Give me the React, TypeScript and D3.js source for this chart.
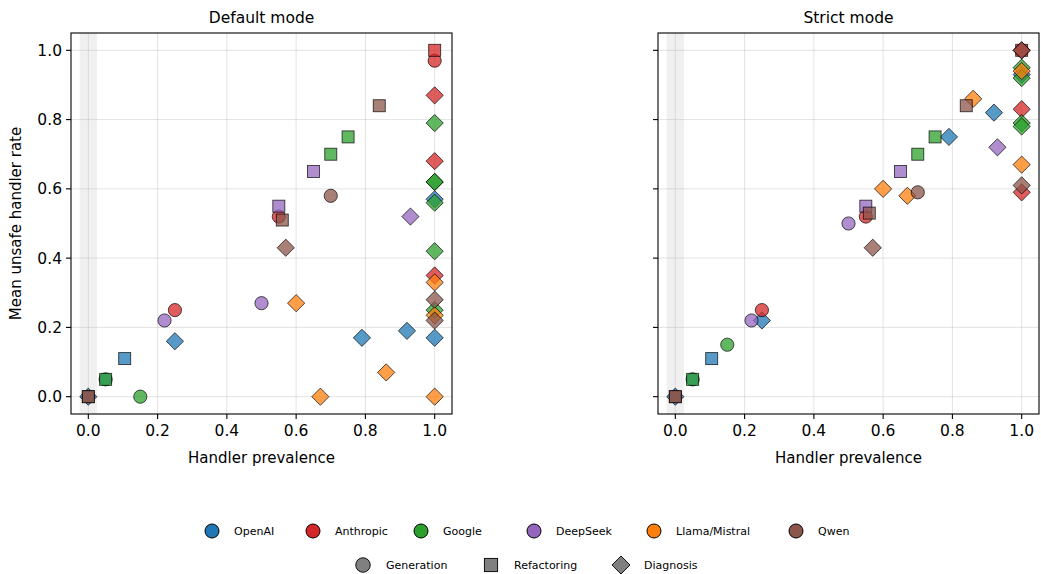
import React from 'react';
import * as d3 from 'd3';

const providers = ['OpenAI', 'Anthropic', 'Google', 'DeepSeek', 'Llama/Mistral', 'Qwen'];
const providerColors = ['#1f77b4', '#d62728', '#2ca02c', '#9467bd', '#ff7f0e', '#8c564b'];
const tasks = ['Generation', 'Refactoring', 'Diagnosis'];
const ticks = [0, 0.2, 0.4, 0.6, 0.8, 1.0];

// [provider, task, handler prevalence, mean unsafe handler rate]
type Pt = [string, string, number, number];

const defaultPoints: Pt[] = [
  ['OpenAI', 'Generation', 0.05, 0.05],
  ['OpenAI', 'Refactoring', 0.105, 0.11],
  ['OpenAI', 'Diagnosis', 0, 0],
  ['OpenAI', 'Diagnosis', 0.25, 0.16],
  ['OpenAI', 'Diagnosis', 0.79, 0.17],
  ['OpenAI', 'Diagnosis', 0.92, 0.19],
  ['OpenAI', 'Diagnosis', 1.0, 0.17],
  ['OpenAI', 'Diagnosis', 1.0, 0.57],
  ['Anthropic', 'Generation', 0.25, 0.25],
  ['Anthropic', 'Generation', 0.55, 0.52],
  ['Anthropic', 'Generation', 1.0, 0.97],
  ['Anthropic', 'Refactoring', 1.0, 1.0],
  ['Anthropic', 'Diagnosis', 1.0, 0.87],
  ['Anthropic', 'Diagnosis', 1.0, 0.68],
  ['Anthropic', 'Diagnosis', 1.0, 0.35],
  ['Google', 'Generation', 0.15, 0],
  ['Google', 'Refactoring', 0.05, 0.05],
  ['Google', 'Refactoring', 0.70, 0.70],
  ['Google', 'Refactoring', 0.75, 0.75],
  ['Google', 'Diagnosis', 1.0, 0.79],
  ['Google', 'Diagnosis', 1.0, 0.62],
  ['Google', 'Diagnosis', 1.0, 0.62],
  ['Google', 'Diagnosis', 1.0, 0.56],
  ['Google', 'Diagnosis', 1.0, 0.42],
  ['Google', 'Diagnosis', 1.0, 0.25],
  ['DeepSeek', 'Generation', 0.22, 0.22],
  ['DeepSeek', 'Generation', 0.50, 0.27],
  ['DeepSeek', 'Refactoring', 0.55, 0.55],
  ['DeepSeek', 'Refactoring', 0.65, 0.65],
  ['DeepSeek', 'Diagnosis', 0.93, 0.52],
  ['Llama/Mistral', 'Diagnosis', 0.60, 0.27],
  ['Llama/Mistral', 'Diagnosis', 0.67, 0],
  ['Llama/Mistral', 'Diagnosis', 0.86, 0.07],
  ['Llama/Mistral', 'Diagnosis', 1.0, 0.33],
  ['Llama/Mistral', 'Diagnosis', 1.0, 0.235],
  ['Llama/Mistral', 'Diagnosis', 1.0, 0],
  ['Qwen', 'Generation', 0.70, 0.58],
  ['Qwen', 'Refactoring', 0, 0],
  ['Qwen', 'Refactoring', 0, 0],
  ['Qwen', 'Refactoring', 0.56, 0.51],
  ['Qwen', 'Refactoring', 0.84, 0.84],
  ['Qwen', 'Diagnosis', 0.57, 0.43],
  ['Qwen', 'Diagnosis', 1.0, 0.28],
  ['Qwen', 'Diagnosis', 1.0, 0.22],
];

const strictPoints: Pt[] = [
  ['OpenAI', 'Generation', 0.05, 0.05],
  ['OpenAI', 'Refactoring', 0.105, 0.11],
  ['OpenAI', 'Diagnosis', 0, 0],
  ['OpenAI', 'Diagnosis', 0.25, 0.22],
  ['OpenAI', 'Diagnosis', 0.79, 0.75],
  ['OpenAI', 'Diagnosis', 0.92, 0.82],
  ['OpenAI', 'Diagnosis', 1.0, 0.93],
  ['Anthropic', 'Generation', 0.25, 0.25],
  ['Anthropic', 'Generation', 0.55, 0.52],
  ['Anthropic', 'Generation', 1.0, 1.0],
  ['Anthropic', 'Refactoring', 1.0, 1.0],
  ['Anthropic', 'Diagnosis', 1.0, 1.0],
  ['Anthropic', 'Diagnosis', 1.0, 0.83],
  ['Anthropic', 'Diagnosis', 1.0, 0.59],
  ['Google', 'Generation', 0.15, 0.15],
  ['Google', 'Refactoring', 0.05, 0.05],
  ['Google', 'Refactoring', 0.70, 0.70],
  ['Google', 'Refactoring', 0.75, 0.75],
  ['Google', 'Diagnosis', 1.0, 0.95],
  ['Google', 'Diagnosis', 1.0, 0.92],
  ['Google', 'Diagnosis', 1.0, 0.79],
  ['Google', 'Diagnosis', 1.0, 0.78],
  ['DeepSeek', 'Generation', 0.22, 0.22],
  ['DeepSeek', 'Generation', 0.50, 0.50],
  ['DeepSeek', 'Refactoring', 0.55, 0.55],
  ['DeepSeek', 'Refactoring', 0.65, 0.65],
  ['DeepSeek', 'Diagnosis', 0.93, 0.72],
  ['Llama/Mistral', 'Diagnosis', 0.60, 0.60],
  ['Llama/Mistral', 'Diagnosis', 0.67, 0.58],
  ['Llama/Mistral', 'Diagnosis', 0.86, 0.86],
  ['Llama/Mistral', 'Diagnosis', 1.0, 0.94],
  ['Llama/Mistral', 'Diagnosis', 1.0, 0.67],
  ['Qwen', 'Generation', 0.70, 0.59],
  ['Qwen', 'Refactoring', 0, 0],
  ['Qwen', 'Refactoring', 0, 0],
  ['Qwen', 'Refactoring', 0.56, 0.53],
  ['Qwen', 'Refactoring', 0.84, 0.84],
  ['Qwen', 'Diagnosis', 0.57, 0.43],
  ['Qwen', 'Diagnosis', 1.0, 1.0],
  ['Qwen', 'Diagnosis', 1.0, 0.61],
];

const color = d3.scaleOrdinal<string, string>().domain(providers).range(providerColors);
const FONT = '"DejaVu Sans", sans-serif';

function Marker({ task, x, y, fill, opacity = 0.75, size = 1 }: any) {
  const common = { fill, fillOpacity: opacity, stroke: '#000', strokeOpacity: opacity, strokeWidth: 0.9 };
  if (task === 'Generation') return <circle cx={x} cy={y} r={6.6 * size} {...common} />;
  if (task === 'Refactoring') {
    const s = 12 * size;
    return <rect x={x - s / 2} y={y - s / 2} width={s} height={s} {...common} />;
  }
  const d = 8.6 * size;
  return <path d={`M${x},${y - d}L${x + d},${y}L${x},${y + d}L${x - d},${y}Z`} {...common} />;
}

function Panel({ left, title, points, showY }: { left: number; title: string; points: Pt[]; showY: boolean }) {
  const top = 33;
  const w = 381;
  const h = 381;
  const x = d3.scaleLinear().domain([-0.05, 1.05]).range([left, left + w]);
  const y = d3.scaleLinear().domain([-0.05, 1.05]).range([top + h, top]);
  const cx = (left + left + w) / 2;
  return (
    <g>
      <rect x={x(-0.025)} y={top} width={x(0.025) - x(-0.025)} height={h} fill="#000" fillOpacity={0.06} />
      {ticks.map(t => (
        <g key={'g' + t}>
          <line x1={x(t)} x2={x(t)} y1={top} y2={top + h} stroke="#b0b0b0" strokeOpacity={0.35} strokeWidth={1} />
          <line x1={left} x2={left + w} y1={y(t)} y2={y(t)} stroke="#b0b0b0" strokeOpacity={0.35} strokeWidth={1} />
        </g>
      ))}
      {points.map((p, i) => (
        <Marker key={i} task={p[1]} x={x(p[2])} y={y(p[3])} fill={color(p[0])} />
      ))}
      <rect x={left} y={top} width={w} height={h} fill="none" stroke="#000" strokeWidth={1.1} />
      {ticks.map(t => (
        <g key={'t' + t}>
          <line x1={x(t)} x2={x(t)} y1={top + h} y2={top + h + 5} stroke="#000" strokeWidth={1.1} />
          <text x={x(t)} y={top + h + 22} textAnchor="middle" fontSize={15.5} fontFamily={FONT} fill="#000">
            {d3.format('.1f')(t)}
          </text>
          <line x1={left - 5} x2={left} y1={y(t)} y2={y(t)} stroke="#000" strokeWidth={1.1} />
          {showY && (
            <text x={left - 9} y={y(t) + 5.5} textAnchor="end" fontSize={15.5} fontFamily={FONT} fill="#000">
              {d3.format('.1f')(t)}
            </text>
          )}
        </g>
      ))}
      <text x={cx} y={23} textAnchor="middle" fontSize={15.5} fontFamily={FONT} fill="#000">{title}</text>
      <text x={cx} y={463} textAnchor="middle" fontSize={15} fontFamily={FONT} fill="#000">Handler prevalence</text>
      {showY && (
        <text transform={`translate(21,${top + h / 2}) rotate(-90)`} textAnchor="middle" fontSize={15} fontFamily={FONT} fill="#000">
          Mean unsafe handler rate
        </text>
      )}
    </g>
  );
}

const providerLegendX = [212, 313, 421, 534, 654, 796];
const taskLegendX = [363, 491, 621];

export default function App() {
  return (
    <svg width={1041} height={574} style={{ position: 'absolute', left: 0, top: 0, background: '#fff' }}>
      <Panel left={71} title="Default mode" points={defaultPoints} showY={true} />
      <Panel left={658} title="Strict mode" points={strictPoints} showY={false} />
      {providers.map((p, i) => (
        <g key={p}>
          <circle cx={providerLegendX[i]} cy={531} r={7} fill={color(p)} stroke="#000" strokeWidth={1} />
          <text x={providerLegendX[i] + 22} y={535} fontSize={11} fontFamily={FONT} fill="#000">{p}</text>
        </g>
      ))}
      {tasks.map((t, i) => (
        <g key={t}>
          <Marker task={t} x={taskLegendX[i]} y={565} fill="#808080" opacity={1} size={t === 'Diagnosis' ? 1.05 : 1.1} />
          <text x={taskLegendX[i] + 23} y={569} fontSize={11} fontFamily={FONT} fill="#000">{t}</text>
        </g>
      ))}
    </svg>
  );
}
